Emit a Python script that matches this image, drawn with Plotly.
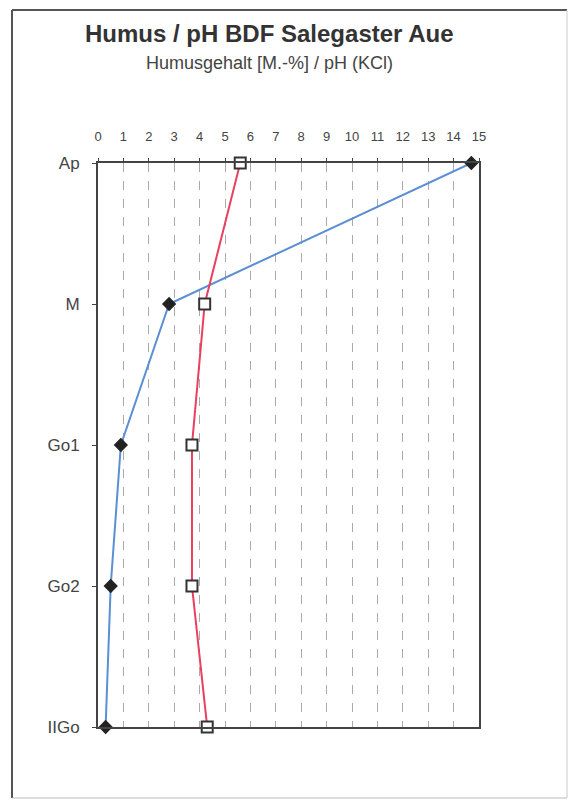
import plotly.graph_objects as go

horizons = ["Ap", "M", "Go1", "Go2", "IIGo"]
humus = [14.7, 2.8, 0.9, 0.5, 0.3]
ph = [5.6, 4.2, 3.7, 3.7, 4.3]
x_ticks = list(range(0, 16))

ypos = list(range(len(horizons)))

fig = go.Figure()
fig.add_trace(go.Scatter(
    x=humus, y=ypos, mode="lines+markers",
    line=dict(color="#5b8fd3", width=2),
    marker=dict(symbol="diamond", size=11, color="#222"),
    cliponaxis=False, name="Humus"))
fig.add_trace(go.Scatter(
    x=ph, y=ypos, mode="lines+markers",
    line=dict(color="#e8405e", width=2),
    marker=dict(symbol="square", size=11, color="white",
                line=dict(color="#333", width=2)),
    cliponaxis=False, name="pH"))

W, H = 572, 801
L, R, T, B = 98, 479, 163, 727
pw, ph_ = R - L, B - T

def px(x):
    return (x - L) / pw

def py(y):
    return (B - y) / ph_

shapes = [
    dict(type="line", xref="paper", yref="paper", x0=px(12), x1=px(567), y0=py(10), y1=py(10),
         line=dict(color="#555", width=2)),
    dict(type="line", xref="paper", yref="paper", x0=px(12), x1=px(12), y0=py(10), y1=py(798),
         line=dict(color="#555", width=2)),
    dict(type="line", xref="paper", yref="paper", x0=px(567), x1=px(567), y0=py(10), y1=py(798),
         line=dict(color="#ccc", width=1)),
    dict(type="line", xref="paper", yref="paper", x0=px(12), x1=px(567), y0=py(798), y1=py(798),
         line=dict(color="#bbb", width=1)),
]

annotations = [
    dict(text="<b>Humus / pH BDF Salegaster Aue</b>", xref="paper", yref="paper",
         x=px(269), y=py(34), xanchor="center", yanchor="middle", showarrow=False,
         font=dict(size=24, color="#333", family="Liberation Sans, Arial")),
    dict(text="Humusgehalt [M.-%] / pH (KCl)", xref="paper", yref="paper",
         x=px(269), y=py(63), xanchor="center", yanchor="middle", showarrow=False,
         font=dict(size=18, color="#444", family="Liberation Sans, Arial")),
]

fig.update_layout(
    width=W, height=H,
    margin=dict(l=L, r=W - R, t=T, b=H - B, pad=0),
    paper_bgcolor="white", plot_bgcolor="white",
    showlegend=False,
    shapes=shapes, annotations=annotations,
    font=dict(family="Liberation Sans, Arial", color="#333"),
    xaxis=dict(side="top", range=[0, 15], tickvals=x_ticks, ticktext=[str(v) for v in x_ticks],
               showgrid=True, griddash="dash", gridcolor="#aaa", gridwidth=1,
               showline=True, mirror=True, linecolor="#444", linewidth=2,
               ticks="outside", ticklen=3, tickcolor="#444",
               ticklabelstandoff=12, tickfont=dict(size=13, color="#444"),
               zeroline=False, fixedrange=True),
    yaxis=dict(range=[len(horizons) - 1, 0], tickvals=ypos, ticktext=horizons,
               showgrid=False, showline=True, mirror=True, linecolor="#444", linewidth=2,
               ticks="outside", ticklen=4, tickcolor="#444",
               ticklabelstandoff=9, tickfont=dict(size=17, color="#444"),
               zeroline=False, fixedrange=True),
)

fig.write_html("out.html")
